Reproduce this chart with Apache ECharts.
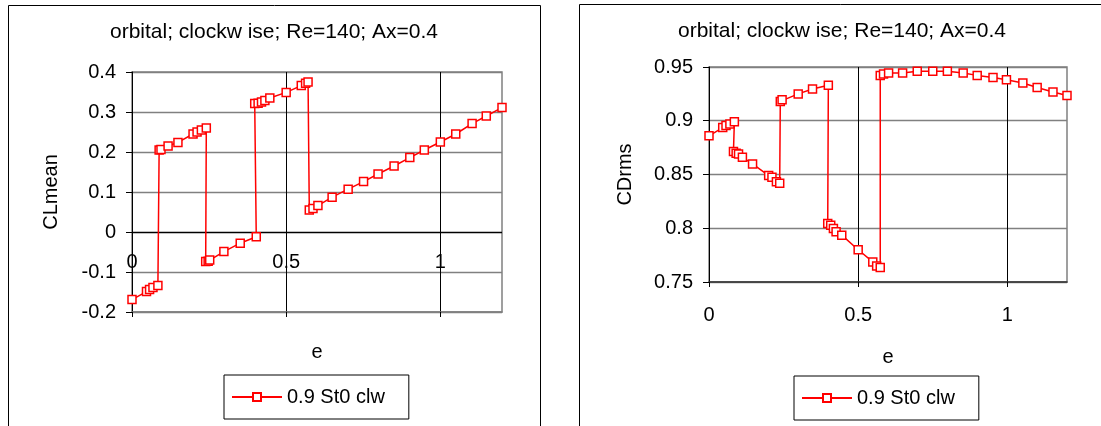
<!DOCTYPE html>
<html>
<head>
<meta charset="utf-8">
<script src="https://cdn.jsdelivr.net/npm/echarts@6/dist/echarts.min.js"></script>
<style>
html,body{margin:0;padding:0;background:#fff;}
#chart{width:1101px;height:426px;}
</style>
</head>
<body>
<div id="chart"></div>
<script>
// ---- data ----
const titleText = 'orbital; clockw ise; Re=140; Ax=0.4';
const seriesName = '0.9 St0 clw';
const xAxisName = 'e';
const yNameCL = 'CLmean';
const yNameCD = 'CDrms';

const eCL = [0, 0.047, 0.057, 0.068, 0.084, 0.088, 0.094, 0.117, 0.149, 0.198, 0.211, 0.225, 0.241,
  0.239, 0.247, 0.252, 0.298, 0.351, 0.403,
  0.398, 0.409, 0.42, 0.431, 0.447, 0.5, 0.549, 0.563, 0.571,
  0.575, 0.587, 0.603, 0.649, 0.701, 0.751, 0.798, 0.85, 0.901, 0.948, 1.0, 1.05, 1.103, 1.149, 1.2];
const clMean = [-0.169, -0.149, -0.144, -0.139, -0.134, 0.205, 0.206, 0.215, 0.224, 0.245, 0.25, 0.255, 0.26,
  -0.074, -0.073, -0.07, -0.049, -0.028, -0.012,
  0.321, 0.322, 0.325, 0.329, 0.335, 0.349, 0.366, 0.372, 0.375,
  0.055, 0.059, 0.066, 0.087, 0.107, 0.126, 0.145, 0.165, 0.186, 0.205, 0.225, 0.245, 0.271, 0.29, 0.311];

const eCD = [0, 0.046, 0.057, 0.07, 0.085,
  0.082, 0.091, 0.099, 0.112, 0.146, 0.2, 0.211, 0.226, 0.237,
  0.239, 0.245, 0.299, 0.347, 0.4,
  0.398, 0.408, 0.417, 0.426, 0.445, 0.5, 0.549, 0.562, 0.574,
  0.574, 0.585, 0.602, 0.649, 0.698, 0.75, 0.799, 0.852, 0.899, 0.952, 0.997, 1.052, 1.1, 1.153, 1.2];
const cdRms = [0.886, 0.8937, 0.8956, 0.897, 0.899,
  0.8713, 0.8698, 0.869, 0.866, 0.8598, 0.849, 0.8475, 0.8433, 0.8418,
  0.918, 0.9195, 0.925, 0.9295, 0.933,
  0.8045, 0.8029, 0.7998, 0.7967, 0.7936, 0.780, 0.7687, 0.765, 0.7635,
  0.9422, 0.9435, 0.9444, 0.9444, 0.946, 0.946, 0.946, 0.9444, 0.9422, 0.9403, 0.9382, 0.9351, 0.931, 0.9267, 0.9235];

const xTickValues = [0, 0.5, 1];
const xTickLabels = ['0', '0.5', '1'];

// ---- chart ----
const FONT = 'Liberation Sans, Arial, sans-serif';
const RED = '#ff0000';
const GRAY = '#808080';
const chart = echarts.init(document.getElementById('chart'), null, {renderer: 'canvas'});

function xLabel(v) {
  const i = xTickValues.indexOf(Math.round(v * 100) / 100);
  return i < 0 ? '' : xTickLabels[i];
}

function xAxisCfg(grid, margin, nameGap, lineColor) {
  return {
    gridIndex: grid, type: 'value', min: 0, max: 1.2, interval: 0.5,
    name: xAxisName, nameLocation: 'middle', nameGap: nameGap,
    nameTextStyle: {fontSize: 20, color: '#000', fontFamily: FONT},
    axisLine: {show: true, onZero: false, lineStyle: {color: lineColor, width: 1.5}},
    axisTick: {show: true, length: 5, lineStyle: {color: '#000', width: 1}},
    axisLabel: {fontSize: 20, color: '#000', fontFamily: FONT, margin: margin, formatter: xLabel, showMaxLabel: false},
    splitLine: {show: true, showMaxLine: false, showMinLine: false, lineStyle: {color: '#000', width: 1}}
  };
}
function yAxisCfg(grid, min, max, interval, name, nameGap, splitColors) {
  return {
    gridIndex: grid, type: 'value', min: min, max: max, interval: interval,
    name: name, nameLocation: 'middle', nameGap: nameGap,
    nameTextStyle: {fontSize: 20, color: '#000', fontFamily: FONT},
    axisLine: {show: true, onZero: false, lineStyle: {color: '#000', width: 1}},
    axisTick: {show: true, length: 6, lineStyle: {color: '#000', width: 1}},
    axisLabel: {fontSize: 20, color: '#000', fontFamily: FONT, margin: 16},
    splitLine: {show: true, lineStyle: {color: splitColors, width: 1.3}}
  };
}
function seriesCfg(idx, xs, ys) {
  return {
    type: 'line', name: seriesName, xAxisIndex: idx, yAxisIndex: idx,
    data: xs.map((x, i) => [x, ys[i]]),
    symbol: 'rect', symbolSize: 8, showSymbol: true, clip: false,
    lineStyle: {color: RED, width: 1.5},
    itemStyle: {color: '#fff', borderColor: RED, borderWidth: 1.5},
    emphasis: {disabled: true},
    animation: false, z: 3
  };
}
function legendCfg(left, top) {
  return {
    left: left, top: top, data: [seriesName], selectedMode: false,
    orient: 'horizontal',
    borderColor: '#000', borderWidth: 1, padding: [11, 24, 11, 7],
    itemWidth: 50, itemHeight: 10,
    textStyle: {fontSize: 20, color: '#000', fontFamily: FONT, lineHeight: 22}
  };
}

chart.setOption({
  animation: false,
  backgroundColor: '#fff',
  textStyle: {fontFamily: FONT},
  title: [
    {text: titleText, left: 274, top: 22, textAlign: 'center', padding: 0,
     textStyle: {fontSize: 21, fontWeight: 'normal', color: '#000', fontFamily: FONT}},
    {text: titleText, left: 842, top: 21, textAlign: 'center', padding: 0,
     textStyle: {fontSize: 21, fontWeight: 'normal', color: '#000', fontFamily: FONT}}
  ],
  graphic: [
    {type: 'rect', silent: true, shape: {x: 8.5, y: 5.5, width: 532, height: 440}, style: {fill: 'none', stroke: '#000', lineWidth: 1}},
    {type: 'rect', silent: true, shape: {x: 579.5, y: 4.5, width: 540, height: 440}, style: {fill: 'none', stroke: '#000', lineWidth: 1}}
  ],
  grid: [
    {left: 132, top: 72, width: 370, height: 240, show: true, borderColor: GRAY, borderWidth: 1.5, backgroundColor: 'transparent', containLabel: false},
    {left: 709, top: 67, width: 358, height: 215, show: true, borderColor: GRAY, borderWidth: 1.5, backgroundColor: 'transparent', containLabel: false}
  ],
  xAxis: [xAxisCfg(0, -60, 30, GRAY), xAxisCfg(1, 23, 65, '#333')],
  yAxis: [
    yAxisCfg(0, -0.2, 0.4, 0.1, yNameCL, 71, [GRAY, GRAY, '#000', GRAY, GRAY, GRAY, GRAY]),
    yAxisCfg(1, 0.75, 0.95, 0.05, yNameCD, 74, [GRAY])
  ],
  legend: [legendCfg(224, 375), legendCfg(794, 376)],
  series: [seriesCfg(0, eCL, clMean), seriesCfg(1, eCD, cdRms)]
});
</script>
</body>
</html>
